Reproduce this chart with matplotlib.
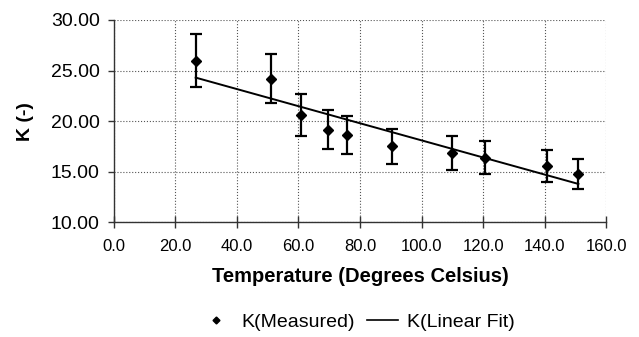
import matplotlib
matplotlib.use("Agg")
import matplotlib.pyplot as plt
from matplotlib.lines import Line2D

plt.rcParams['font.family'] = ['Liberation Sans', 'DejaVu Sans']

# Data
temperature = [26.6, 51.0, 60.8, 69.6, 75.9, 90.5, 109.7, 120.7, 140.6, 150.9]
k_measured = [25.98, 24.2, 20.6, 19.15, 18.6, 17.5, 16.85, 16.41, 15.56, 14.8]
k_error = [2.6, 2.42, 2.06, 1.92, 1.86, 1.75, 1.69, 1.64, 1.56, 1.48]
fit_x = [26.6, 150.9]
fit_y = [24.3, 13.8]

x_ticks = [0, 20, 40, 60, 80, 100, 120, 140, 160]
y_ticks = [10, 15, 20, 25, 30]

fig = plt.figure(figsize=(6.39, 3.37), dpi=100)
ax = fig.add_axes([0.178, 0.340, 0.771, 0.601])

ax.errorbar(temperature, k_measured, yerr=k_error, fmt='D', color='black',
            markersize=5, elinewidth=1.6, capsize=4, capthick=1.6, zorder=3)
ax.plot(fit_x, fit_y, color='black', linewidth=1.4, zorder=2)

ax.set_xlim(0, 160)
ax.set_ylim(10, 30)
ax.set_xticks(x_ticks)
ax.set_xticklabels([f"{v:.1f}" for v in x_ticks], fontsize=12)
ax.set_yticks(y_ticks)
ax.set_yticklabels([f"{v:.2f}" for v in y_ticks], fontsize=14)

ax.grid(True, linestyle=':', color='#555555', linewidth=0.8)
for s in ['top', 'right']:
    ax.spines[s].set_visible(False)
for s in ['left', 'bottom']:
    ax.spines[s].set_color('#333333')
    ax.spines[s].set_linewidth(1.0)
ax.tick_params(axis='y', direction='out', length=4, width=1, color='#333333', pad=6)
ax.tick_params(axis='x', direction='inout', length=8, width=1, color='#333333', pad=8)

ax.set_xlabel('Temperature (Degrees Celsius)', fontsize=14.5, fontweight='bold', labelpad=9)
ax.set_ylabel('K (-)', fontsize=14, fontweight='bold', labelpad=12)

handles = [Line2D([], [], marker='D', color='black', linestyle='None', markersize=3.5),
           Line2D([], [], color='black', linewidth=1.2)]
fig.legend(handles, ['K(Measured)', 'K(Linear Fit)'], loc='center',
           bbox_to_anchor=(0.560, 0.045), ncol=2, frameon=False, fontsize=14,
           handlelength=1.6, handletextpad=0.5, columnspacing=0.6)

fig.savefig('out.png', dpi=100)
